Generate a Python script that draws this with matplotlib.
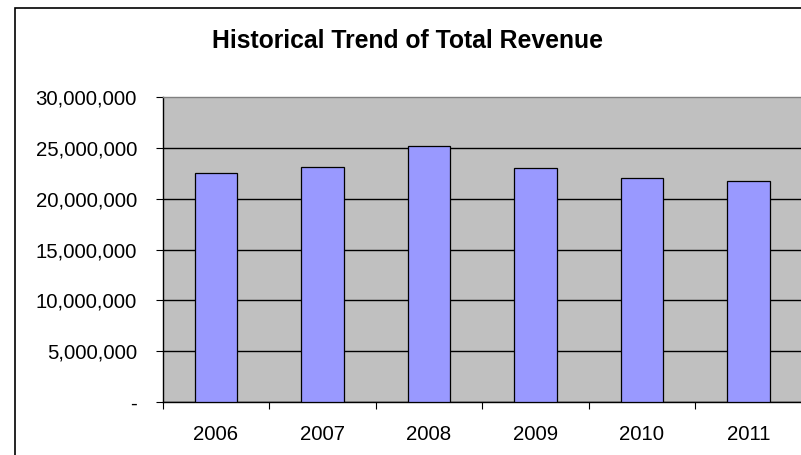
import matplotlib
matplotlib.use("Agg")
import matplotlib.pyplot as plt
from matplotlib.patches import Rectangle
from matplotlib.ticker import FuncFormatter

# data
years = ["2006", "2007", "2008", "2009", "2010", "2011"]
revenue = [22580000, 23110000, 25230000, 23000000, 22050000, 21760000]
yticks = [0, 5000000, 10000000, 15000000, 20000000, 25000000, 30000000]

plt.rcParams['font.family'] = ['Liberation Sans', 'DejaVu Sans']

W, H = 801, 455
fig = plt.figure(figsize=(W / 100, H / 100), dpi=100)

# chart area border (right/bottom cut off in the reference)
fig.patches.append(Rectangle((15 / W, -0.1), 1.2, (H - 8) / H + 0.1,
                             transform=fig.transFigure, fill=False,
                             edgecolor='black', linewidth=1.2))

ax = fig.add_axes([162.7 / W, 53 / H, 639 / W, 304.7 / H])
ax.set_facecolor('#C0C0C0')

x = range(len(years))
ax.bar(x, revenue, width=0.4, color='#9999FF', edgecolor='black',
       linewidth=0.9, zorder=3)

ax.set_xlim(-0.5, len(years) - 0.5)
ax.set_ylim(0, 30000000)
ax.set_yticks(yticks)
ax.yaxis.set_major_formatter(FuncFormatter(lambda v, p: '-' if v == 0 else f'{int(v):,}'))
ax.set_xticks(x)
ax.set_xticklabels(years)
ax.set_xticks([i - 0.5 for i in range(len(years) + 1)], minor=True)

ax.tick_params(axis='y', direction='out', length=5, width=0.8, pad=13.5,
               labelsize=14.7, colors='black')
ax.tick_params(axis='x', which='major', length=0, pad=16.5, labelsize=14.7)
ax.tick_params(axis='x', which='minor', direction='out', length=5, width=0.8)

ax.yaxis.grid(True, color='black', linewidth=1.0, zorder=1)
ax.set_axisbelow(True)
ax.get_ygridlines()[-1].set_visible(False)

for s in ['left', 'bottom']:
    ax.spines[s].set_color('black')
    ax.spines[s].set_linewidth(1.0)
ax.spines['top'].set_color('#808080')
ax.spines['top'].set_linewidth(1.0)
ax.spines['right'].set_visible(False)

fig.text(408 / W, 1 - 41 / H, 'Historical Trend of Total Revenue',
         ha='center', va='center', fontsize=17.8, fontweight='bold')

fig.savefig('out.png', dpi=100)
